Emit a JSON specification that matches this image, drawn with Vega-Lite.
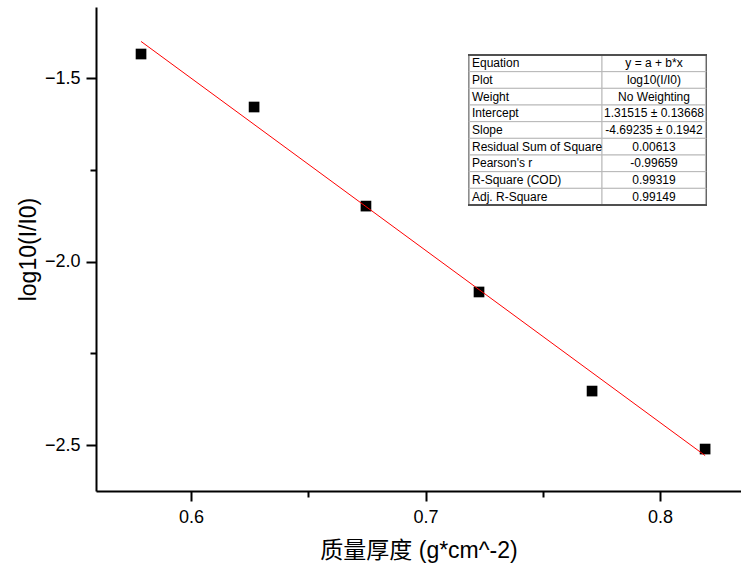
{
  "$schema": "https://vega.github.io/schema/vega-lite/v6.json",
  "width": 645,
  "height": 484,
  "autosize": {"type": "none"},
  "padding": {"left": 96, "top": 7, "right": 0, "bottom": 88},
  "background": "white",
  "config": {
    "view": {"stroke": null},
    "font": "Liberation Sans",
    "axis": {
      "grid": false,
      "domainColor": "black",
      "domainWidth": 2,
      "tickColor": "black",
      "tickWidth": 2,
      "labelColor": "black",
      "titleColor": "black",
      "labelFont": "Liberation Sans",
      "titleFont": "Liberation Sans, Noto Sans CJK SC",
      "labelFontSize": 18,
      "titleFontSize": 23,
      "titleFontWeight": "normal"
    }
  },
  "datasets": {
    "points": [
      {"x": 0.5787, "y": -1.4346},
      {"x": 0.6269, "y": -1.579},
      {"x": 0.6746, "y": -1.849},
      {"x": 0.7228, "y": -2.083},
      {"x": 0.771, "y": -2.353},
      {"x": 0.8192, "y": -2.511}
    ],
    "fit": [
      {"x": 0.5787, "y": -1.4003},
      {"x": 0.8192, "y": -2.5288}
    ],
    "stats": [
      {"label": "Equation", "value": "y = a + b*x"},
      {"label": "Plot", "value": "log10(I/I0)"},
      {"label": "Weight", "value": "No Weighting"},
      {"label": "Intercept", "value": "1.31515 ± 0.13668"},
      {"label": "Slope", "value": "-4.69235 ± 0.1942"},
      {"label": "Residual Sum of Square", "value": "0.00613"},
      {"label": "Pearson's r", "value": "-0.99659"},
      {"label": "R-Square (COD)", "value": "0.99319"},
      {"label": "Adj. R-Square", "value": "0.99149"}
    ]
  },
  "layer": [
    {
      "layer": [
        {
          "data": {"name": "points"},
          "mark": {"type": "point", "shape": "square", "filled": true, "color": "black", "size": 114, "opacity": 1},
          "encoding": {
            "x": {"field": "x", "type": "quantitative",
              "scale": {"domain": [0.5595, 0.8345], "nice": false, "zero": false},
              "axis": {"values": [0.6, 0.7, 0.8], "format": ".1f", "tickSize": 10, "labelPadding": 7, "title": "质量厚度 (g*cm^-2)", "titlePadding": 13}},
            "y": {"field": "y", "type": "quantitative",
              "scale": {"domain": [-2.6253, -1.3065], "nice": false, "zero": false},
              "axis": {"values": [-1.5, -2, -2.5], "format": ".1f", "tickSize": 10, "labelPadding": 6, "title": "log10(I/I0)", "titlePadding": 4}}
          }
        },
        {
          "data": {"name": "fit"},
          "mark": {"type": "line", "color": "red", "strokeWidth": 1},
          "encoding": {
            "x": {"field": "x", "type": "quantitative",
              "axis": {"orient": "bottom", "values": [0.65, 0.75], "labels": false, "domain": false, "tickSize": 6, "title": null}},
            "y": {"field": "y", "type": "quantitative",
              "axis": {"orient": "left", "values": [-1.75, -2.25], "labels": false, "domain": false, "tickSize": 6, "title": null}}
          }
        }
      ],
      "resolve": {"axis": {"x": "independent", "y": "independent"}}
    },
    {
      "data": {"name": "stats"},
      "layer": [
        {
          "mark": {"type": "rect", "fill": "#505050"},
          "encoding": {
            "x": {"datum": 0.71825, "type": "quantitative", "scale": {"domain": [0.5595, 0.8345], "nice": false, "zero": false}, "axis": null},
            "x2": {"datum": 0.81995},
            "y": {"field": "label", "type": "nominal", "sort": null, "scale": {"range": [48, 198], "paddingInner": 0, "paddingOuter": 0}, "axis": null}
          }
        },
        {
          "mark": {"type": "rect", "fill": "white", "stroke": "#b8b8b8", "strokeWidth": 1},
          "encoding": {
            "x": {"datum": 0.71872, "type": "quantitative"},
            "x2": {"datum": 0.77524},
            "y": {"field": "label", "type": "nominal", "sort": null}
          }
        },
        {
          "mark": {"type": "rect", "fill": "white", "stroke": "#b8b8b8", "strokeWidth": 1},
          "encoding": {
            "x": {"datum": 0.77524, "type": "quantitative"},
            "x2": {"datum": 0.81935},
            "y": {"field": "label", "type": "nominal", "sort": null}
          }
        },
        {
          "mark": {"type": "rule", "color": "#505050", "strokeWidth": 1.5},
          "encoding": {
            "x": {"datum": 0.71825, "type": "quantitative"},
            "x2": {"datum": 0.81995},
            "y": {"datum": "Equation", "type": "nominal", "bandPosition": 0}
          }
        },
        {
          "mark": {"type": "rule", "color": "#505050", "strokeWidth": 1.5},
          "encoding": {
            "x": {"datum": 0.71825, "type": "quantitative"},
            "x2": {"datum": 0.81995},
            "y": {"datum": "Adj. R-Square", "type": "nominal", "bandPosition": 1}
          }
        },
        {
          "mark": {"type": "text", "align": "left", "dx": 3, "fontSize": 12, "font": "Liberation Sans", "color": "black"},
          "encoding": {
            "x": {"datum": 0.71853, "type": "quantitative"},
            "y": {"field": "label", "type": "nominal", "sort": null},
            "text": {"field": "label"}
          }
        },
        {
          "mark": {"type": "text", "align": "center", "fontSize": 12, "font": "Liberation Sans", "color": "black"},
          "encoding": {
            "x": {"datum": 0.79741, "type": "quantitative"},
            "y": {"field": "label", "type": "nominal", "sort": null},
            "text": {"field": "value"}
          }
        }
      ]
    }
  ],
  "resolve": {"scale": {"x": "independent", "y": "independent"}}
}
